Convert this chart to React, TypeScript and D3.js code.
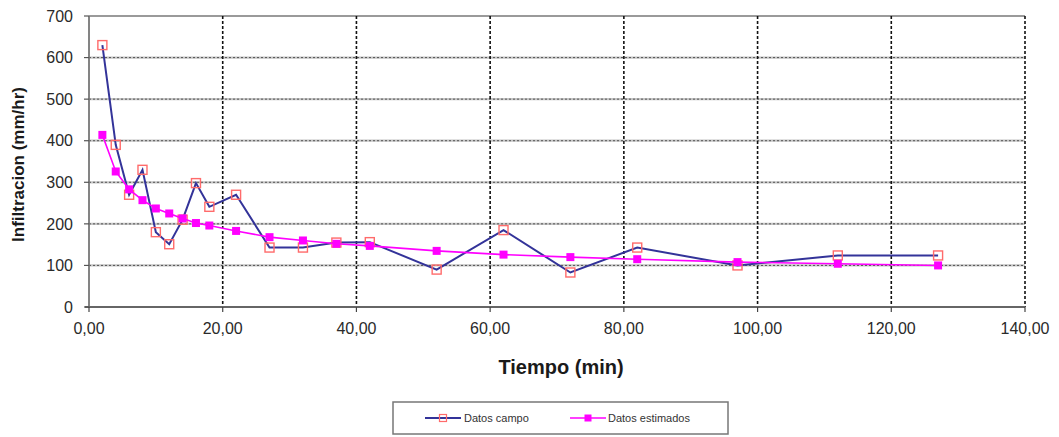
import React from "react";
import * as d3 from "d3";

// Tiempo (min)
const tiempo = [2, 4, 6, 8, 10, 12, 14, 16, 18, 22, 27, 32, 37, 42, 52, 62, 72, 82, 97, 112, 127];
// Infiltración medida en campo (mm/hr)
const datosCampo = [630, 390, 270, 330, 180, 151, 210, 298, 241, 270, 143, 143, 155, 156, 90, 185, 83, 143, 100, 124, 124];
// Infiltración estimada por el modelo (mm/hr)
const datosEstimados = [414, 326, 283, 257, 237, 225, 213, 202, 196, 183, 168, 160, 152, 147, 135, 126, 120, 115, 108, 104, 100];

const xTicks = [0, 20, 40, 60, 80, 100, 120, 140];
const yTicks = [0, 100, 200, 300, 400, 500, 600, 700];

const W = 1059;
const H = 437;
const margin = { left: 89, right: 1025, top: 16, bottom: 307 };

const FONT = "'Liberation Sans', Arial, sans-serif";

export default function App() {
  const x = d3.scaleLinear().domain([0, 140]).range([margin.left, margin.right]);
  const y = d3.scaleLinear().domain([0, 700]).range([margin.bottom, margin.top]);

  const fmtX = (v: number) => d3.format(".2f")(v).replace(".", ",");

  const line = d3
    .line<number>()
    .x((_, i) => x(tiempo[i]))
    .y((d) => y(d));

  const campoPath = line(datosCampo) || "";
  const estPath = line(datosEstimados) || "";

  const sq = 9;
  const sqE = 8;

  return (
    <svg
      width={W}
      height={H}
      style={{ position: "absolute", left: 0, top: 0, background: "#fff" }}
      fontFamily={FONT}
    >
      {/* horizontal grid */}
      {yTicks.slice(1).map((t) => (
        <g key={"hg" + t}>
          <line
            x1={margin.left}
            x2={margin.right}
            y1={y(t)}
            y2={y(t)}
            stroke={t === 700 ? "#9a9a9a" : "#c4c4c4"}
            strokeWidth={2.2}
          />
          {t !== 700 && (
            <line
              x1={margin.left}
              x2={margin.right}
              y1={y(t)}
              y2={y(t)}
              stroke="#555"
              strokeWidth={1}
              strokeDasharray="2,2"
            />
          )}
        </g>
      ))}
      {/* vertical grid */}
      {xTicks.slice(1).map((t) => (
        <line
          key={"vg" + t}
          x1={x(t)}
          x2={x(t)}
          y1={margin.top}
          y2={margin.bottom}
          stroke="#111"
          strokeWidth={1.6}
          strokeDasharray="3,2"
        />
      ))}

      {/* axes */}
      <line x1={margin.left} x2={margin.left} y1={margin.top} y2={margin.bottom} stroke="#777" strokeWidth={1.8} />
      <line x1={margin.left - 4} x2={margin.right} y1={margin.bottom} y2={margin.bottom} stroke="#666" strokeWidth={1.8} />

      {yTicks.map((t) => (
        <g key={"yt" + t}>
          <line x1={margin.left - 5} x2={margin.left} y1={y(t)} y2={y(t)} stroke="#555" strokeWidth={1.2} />
          <text x={73} y={y(t)} dy="0.36em" textAnchor="end" fontSize={16} fill="#2a2a2a">
            {t}
          </text>
        </g>
      ))}
      {xTicks.map((t) => (
        <g key={"xt" + t}>
          <line x1={x(t)} x2={x(t)} y1={margin.bottom} y2={margin.bottom + 5} stroke="#444" strokeWidth={1.2} />
          <text x={x(t)} y={334} textAnchor="middle" fontSize={16} fill="#2a2a2a">
            {fmtX(t)}
          </text>
        </g>
      ))}

      {/* axis titles */}
      <text
        transform={`translate(24, ${(margin.top + margin.bottom) / 2 + 3}) rotate(-90)`}
        textAnchor="middle"
        fontSize={17}
        fontWeight="bold"
        fill="#1a1a1a"
      >
        Infiltracion (mm/hr)
      </text>
      <text x={561} y={374} textAnchor="middle" fontSize={20} fontWeight="bold" fill="#1a1a1a">
        Tiempo (min)
      </text>

      {/* Datos campo */}
      <path d={campoPath} fill="none" stroke="#333399" strokeWidth={2} />
      {datosCampo.map((v, i) => (
        <rect
          key={"c" + i}
          x={x(tiempo[i]) - sq / 2}
          y={y(v) - sq / 2}
          width={sq}
          height={sq}
          fill="none"
          stroke="#ff6b6b"
          strokeWidth={1.4}
        />
      ))}

      {/* Datos estimados */}
      <path d={estPath} fill="none" stroke="#ff00ff" strokeWidth={1.6} />
      {datosEstimados.map((v, i) => (
        <rect
          key={"e" + i}
          x={x(tiempo[i]) - sqE / 2}
          y={y(v) - sqE / 2}
          width={sqE}
          height={sqE}
          fill="#ff00ff"
        />
      ))}

      {/* legend */}
      <rect x={393} y={402} width={335} height={32} fill="#fff" stroke="#777" strokeWidth={1.5} />
      <line x1={425} x2={461} y1={418} y2={418} stroke="#333399" strokeWidth={2} />
      <rect x={443 - 3.5} y={418 - 3.5} width={7} height={7} fill="none" stroke="#ff6b6b" strokeWidth={1.2} />
      <text x={464} y={418} dy="0.35em" fontSize={11} fill="#333">
        Datos campo
      </text>
      <line x1={570} x2={606} y1={418} y2={418} stroke="#ff00ff" strokeWidth={1.6} />
      <rect x={588 - 3.5} y={418 - 3.5} width={7} height={7} fill="#ff00ff" />
      <text x={608} y={418} dy="0.35em" fontSize={11} fill="#333">
        Datos estimados
      </text>
    </svg>
  );
}
